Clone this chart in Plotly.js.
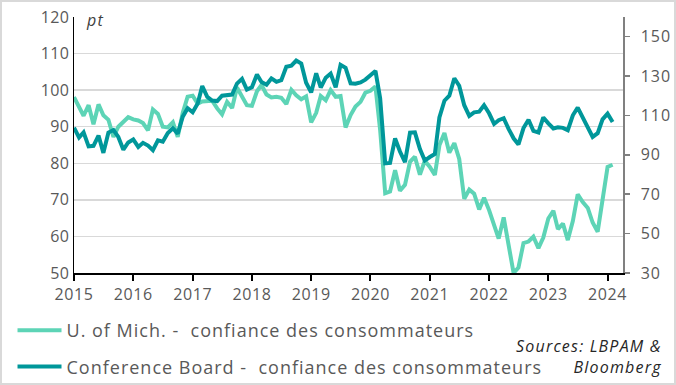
<!DOCTYPE html>
<html>
<head>
<meta charset="utf-8">
<script src="https://cdn.plot.ly/plotly-3.0.1.min.js"></script>
<style>
  html, body { margin: 0; padding: 0; background: #fff; }
  #wrap { position: relative; width: 676px; height: 385px; }
  #chart { width: 676px; height: 385px; }
  #frame { position: absolute; left: 0; top: 0; width: 676px; height: 385px; box-sizing: border-box; border: 2px solid #d9d9d9; pointer-events: none; }
  .legendtext { letter-spacing: 1px; }
  .annotation-text { letter-spacing: 1.2px; }
  .xtick text { letter-spacing: 0.6px; }
  .ytick text { letter-spacing: 0.4px; }
  .y2tick text { letter-spacing: 1px; }
</style>
</head>
<body>
<div id="wrap"><div id="chart"></div><div id="frame"></div></div>
<script>
// Monthly data, Jan 2015 .. Feb 2024
const startYear = 2015;
const umichName = "U. of Mich. -\u00A0 confiance des consommateurs";
const cbName = "Conference Board -\u00A0 confiance des consommateurs";

const umich = [
  98.1, 95.4, 93.0, 95.9, 90.7, 96.1, 93.1, 91.9, 87.2, 90.0, 91.3, 92.6,
  92.0, 91.7, 91.0, 89.0, 94.7, 93.5, 90.0, 89.8, 91.2, 87.2, 93.8, 98.2,
  98.5, 96.3, 96.9, 97.0, 97.1, 95.0, 93.4, 96.8, 95.1, 100.7, 98.5, 95.9,
  95.7, 99.7, 101.4, 98.8, 98.0, 98.2, 97.9, 96.2, 100.1, 98.6, 97.5, 98.3,
  91.2, 93.8, 98.4, 97.2, 100.0, 98.2, 98.4, 89.8, 93.2, 95.5, 96.8, 99.3,
  99.8, 101.0, 89.1, 71.8, 72.3, 78.1, 72.5, 74.1, 80.4, 81.8, 76.9, 80.7,
  79.0, 76.8, 84.9, 88.3, 82.9, 85.5, 81.2, 70.3, 72.8, 71.7, 67.4, 70.6,
  67.2, 62.8, 59.4, 65.2, 58.4, 50.0, 51.5, 58.2, 58.6, 59.9, 56.8, 59.7,
  64.9, 67.0, 62.0, 63.5, 59.0, 64.2, 71.5, 69.4, 67.8, 63.8, 61.3, 69.7,
  79.0, 79.6
];

const confBoard = [
  103.8, 98.8, 101.4, 94.3, 94.6, 99.8, 91.0, 101.3, 102.6, 99.1, 92.6, 96.3,
  97.8, 94.0, 96.1, 94.7, 92.4, 97.4, 96.7, 101.1, 103.5, 100.8, 109.4, 113.7,
  111.6, 116.1, 124.9, 119.4, 117.6, 117.3, 120.0, 120.4, 120.6, 126.2, 128.6, 123.1,
  124.3, 130.8, 127.0, 125.6, 128.8, 127.1, 127.9, 134.7, 135.3, 137.9, 136.4, 126.6,
  121.7, 131.4, 124.2, 129.2, 131.3, 124.3, 135.7, 134.2, 126.3, 126.1, 126.8, 128.2,
  130.4, 132.6, 118.8, 85.7, 85.9, 98.3, 91.7, 86.3, 101.3, 101.4, 92.9, 87.1,
  88.9, 90.4, 109.0, 117.5, 120.0, 128.9, 125.1, 115.2, 109.8, 111.6, 111.9, 115.2,
  111.1, 105.7, 107.6, 108.6, 103.2, 98.4, 95.3, 103.6, 107.8, 102.2, 101.4, 109.0,
  106.0, 103.4, 104.0, 103.7, 102.5, 110.1, 114.0, 108.7, 104.3, 99.1, 101.0, 108.0,
  110.9, 106.7
];

const leftTicks = [50, 60, 70, 80, 90, 100, 110, 120];
const rightTicks = [30, 50, 70, 90, 110, 130, 150];

function monthDates(n) {
  const out = [];
  for (let i = 0; i < n; i++) {
    const y = startYear + Math.floor(i / 12);
    const m = (i % 12) + 1;
    out.push(y + "-" + (m < 10 ? "0" + m : m) + "-01");
  }
  return out;
}

const FONT = "Open Sans, Noto Sans, sans-serif";
const GREY = "#595959";

const traces = [
  {
    x: monthDates(umich.length), y: umich, name: umichName,
    type: "scatter", mode: "lines", yaxis: "y", legendgroup: "a",
    line: { color: "#5DD4B6", width: 4 }
  },
  {
    x: monthDates(confBoard.length), y: confBoard, name: cbName,
    type: "scatter", mode: "lines", yaxis: "y2", legendgroup: "b",
    line: { color: "#00979A", width: 4 }
  }
];

const layout = {
  width: 676, height: 385,
  margin: { l: 74, r: 53, t: 17, b: 112, autoexpand: false },
  paper_bgcolor: "#fff", plot_bgcolor: "#fff",
  font: { family: FONT, color: GREY, size: 16 },
  showlegend: true,
  legend: {
    x: -0.112, xanchor: "left", y: -0.1523, yanchor: "top",
    font: { family: FONT, size: 18, color: GREY },
    bgcolor: "rgba(0,0,0,0)", tracegroupgap: 10, itemwidth: 44
  },
  xaxis: {
    type: "date", range: ["2015-01-01", "2024-04-05"],
    tick0: "2015-01-01", dtick: "M12", tickformat: "%Y",
    ticks: "outside", ticklen: 6, tickwidth: 2, tickcolor: "#000",
    showline: true, linecolor: "#000", linewidth: 2,
    showgrid: false, zeroline: false,
    tickfont: { family: FONT, size: 16, color: GREY }
  },
  yaxis: {
    range: [50, 120], tickvals: leftTicks,
    showgrid: true, gridcolor: "#d9d9d9", gridwidth: 1.5,
    showline: true, linecolor: "#000", linewidth: 1.5,
    zeroline: false, ticks: "",
    tickfont: { family: FONT, size: 16, color: GREY }
  },
  yaxis2: {
    range: [30, 160], tickvals: rightTicks, overlaying: "y", side: "right",
    showgrid: false, zeroline: false,
    showline: true, linecolor: "#808080", linewidth: 1.5,
    ticks: "outside", ticklen: 5, tickwidth: 1.5, tickcolor: "#808080",
    tickfont: { family: FONT, size: 16, color: GREY }
  },
  annotations: [
    {
      text: "<i>pt</i>", xref: "paper", yref: "paper",
      x: 0.018, xanchor: "left", y: 0.988, yanchor: "middle",
      showarrow: false, font: { family: FONT, size: 16, color: "#404040" }
    },
    {
      text: "<i>Sources: LBPAM &amp;<br>Bloomberg</i>", xref: "paper", yref: "paper",
      x: 1.0747, xanchor: "right", y: -0.236, yanchor: "top", align: "right",
      showarrow: false, font: { family: FONT, size: 16, color: "#262626" }
    }
  ]
};

Plotly.newPlot("chart", traces, layout, { displayModeBar: false, staticPlot: true }).then(function () {
  // push the right-axis tick labels a little further from the axis line
  document.querySelectorAll("#chart .y2tick text").forEach(function (t) {
    const x0 = parseFloat(t.getAttribute("x") || "0");
    t.setAttribute("x", x0 + 8);
  });
});
</script>
</body>
</html>
